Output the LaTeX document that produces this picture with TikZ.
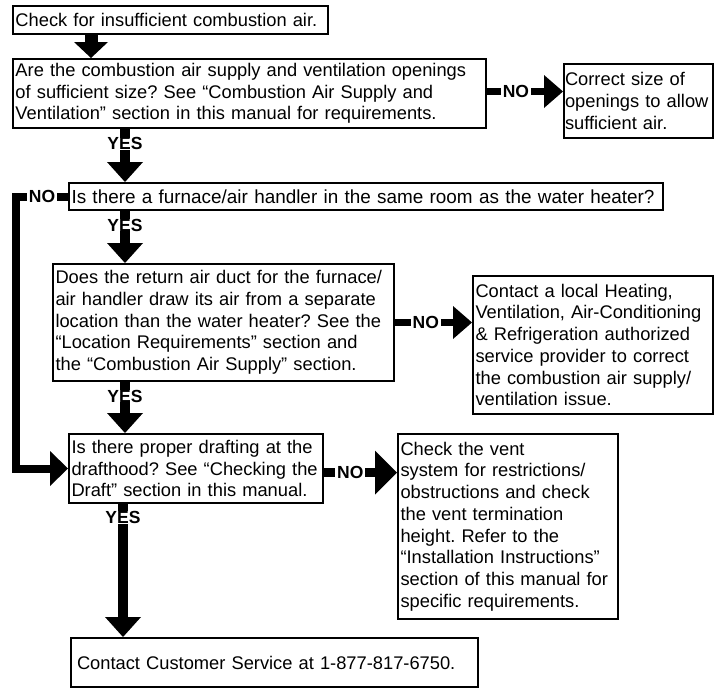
\documentclass[tikz,border=0pt]{standalone}
\usepackage{fontspec}
\setmainfont{Liberation Sans}
\usetikzlibrary{positioning, arrows.meta, calc}
\frenchspacing

\tikzset{
  stepbox/.style={draw, line width=2pt, anchor=north west, align=left,
    inner xsep=2.5pt, inner ysep=2pt},
  yesarrow/.style={line width=10pt, -{Triangle[length=20pt, width=36pt, line width=0pt]}},
  noarrow/.style={line width=7.5pt, -{Triangle[length=19pt, width=33pt, line width=0pt]}},
  answer/.style={fill=white, font=\fontsize{17.5}{18}\selectfont\bfseries,
    inner xsep=2pt, inner ysep=0pt},
}

\begin{document}
\begin{tikzpicture}[x=1pt, y=-1pt, font=\fontsize{18.3}{21.7}\selectfont]
  \useasboundingbox[fill=white] (0,0) rectangle (721,689);

  % left column of questions
  \node[stepbox, text width=310pt, minimum height=28pt] (start) at (12,5)
    {Check for insufficient combustion air.};
  \node[stepbox, text width=468pt, minimum height=69pt] (q1) at (12,58)
    {Are the combustion air supply and ventilation openings\\
     of sufficient size? See “Combustion Air Supply and\\
     Ventilation” section in this manual for requirements.};
  \node[stepbox, text width=589pt, minimum height=27pt,
    font=\fontsize{18.9}{21.7}\selectfont] (q2) at (68,182)
    {Is there a furnace/air handler in the same room as the water heater?};
  \node[stepbox, text width=336pt, minimum height=117pt] (q3) at (52,263)
    {Does the return air duct for the furnace/\\
     air handler draw its air from a separate\\
     location than the water heater? See the\\
     “Location Requirements” section and\\
     the “Combustion Air Supply” section.};
  \node[stepbox, text width=249pt, minimum height=69pt] (q4) at (68,433)
    {Is there proper drafting at the\\
     drafthood? See “Checking the\\
     Draft” section in this manual.};
  \node[stepbox, inner xsep=6pt, text width=395pt, minimum height=49pt] (done) at (70,637)
    {Contact Customer Service at 1-877-817-6750.};

  % right column of fixes
  \node[stepbox, inner xsep=1pt, text width=147pt, minimum height=74pt] (fix1) at (563,63)
    {Correct size of\\ openings to allow\\ sufficient air.};
  \node[stepbox, text width=235pt, minimum height=138pt] (fix2) at (472,275)
    {Contact a local Heating,\\
     Ventilation, Air-Conditioning\\
     \& Refrigeration authorized\\
     service provider to correct\\
     the combustion air supply/\\
     ventilation issue.};
  \node[stepbox, text width=215pt, minimum height=185pt] (fix3) at (397,433)
    {Check the vent\\
     system for restrictions/\\
     obstructions and check\\
     the vent termination\\
     height. Refer to the\\
     “Installation Instructions”\\
     section of this manual for\\
     specific requirements.};

  \coordinate (lane) at (91,0);
  \coordinate (col) at (125,0);
  \coordinate (col2) at (123,0);
  \coordinate (loop) at (16,0);

  % yes path
  \draw[line width=13pt, -{Triangle[length=16pt, width=34pt, line width=0pt]}]
    (start.south -| lane) -- (q1.north -| lane);
  \draw[yesarrow] (q1.south -| col) -- node[answer, pos=0.28] {YES} (q2.north -| col);
  \draw[yesarrow] (q2.south -| col) -- node[answer, pos=0.27] {YES} (q3.north -| col);
  \draw[yesarrow] (q3.south -| col) -- node[answer, pos=0.28] {YES} (q4.north -| col);
  \draw[yesarrow] (q4.south -| col2) -- node[answer, pos=0.1] {YES} (done.north -| col2);

  % no path
  \draw[noarrow] ($(q1.east)+(0,-2)$) -- node[answer, pos=0.38] {NO}
    ($(q1.east -| fix1.west)+(0,-2)$);
  \draw[noarrow] (q3.east) -- node[answer, pos=0.4] {NO} (q3.east -| fix2.west);
  \draw[line width=9pt, -{Triangle[length=22pt, width=44pt, line width=0pt]}]
    ($(q4.east)+(0,4)$) -- node[answer, pos=0.36] {NO} ($(q4.east -| fix3.west)+(0,4)$);
  \draw[line width=8pt, -{Triangle[length=18pt, width=35pt, line width=0pt]}]
    (q2.west) -- node[answer] {NO} (q2.west -| loop) -- (q4.west -| loop) -- (q4.west);
\end{tikzpicture}
\end{document}
